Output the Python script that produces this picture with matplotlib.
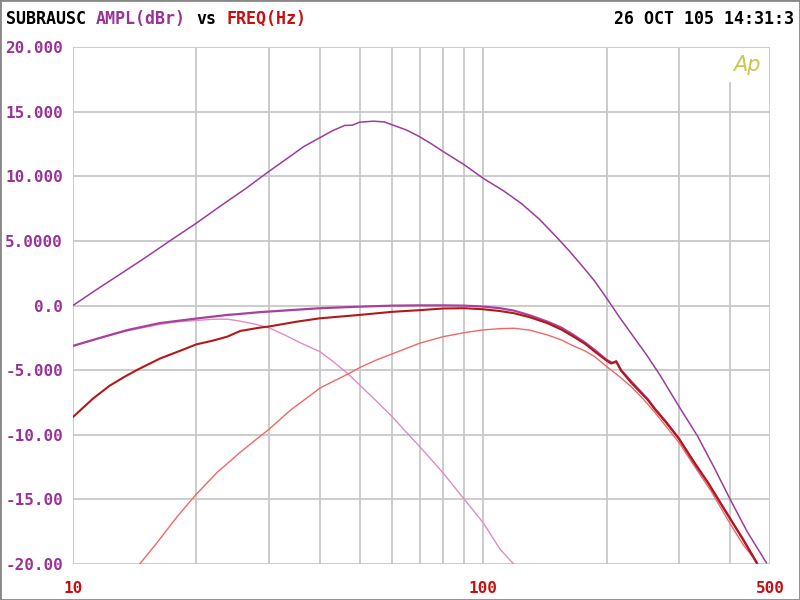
import matplotlib.pyplot as plt
from matplotlib.patches import Rectangle

# boost curve (top purple)
boost_f = [10, 11.5, 13, 15, 17.5, 20, 23, 26.5, 30, 33.5, 36.5, 40, 43, 46, 48, 50, 54, 57.5,
           60, 65, 70, 75, 80, 90, 100, 112, 124, 137, 150, 162, 174, 187, 200, 215, 230, 250,
           270, 300, 333, 365, 400, 440, 490]
boost_db = [0.0, 1.3, 2.4, 3.7, 5.15, 6.38, 7.75, 9.1, 10.37, 11.45, 12.3, 13.0, 13.55, 13.95, 13.97,
            14.2, 14.28, 14.22, 14.0, 13.6, 13.08, 12.5, 11.92, 10.9, 9.86, 8.9, 7.9, 6.7, 5.4, 4.25,
            3.1, 1.9, 0.57, -0.9, -2.2, -3.8, -5.4, -7.8, -10.1, -12.5, -15.0, -17.5, -19.9]

# sum curve (magenta)
sum_f = [10, 11.5, 13.55, 16.3, 20, 23.8, 25.6, 28.6, 30, 35, 40, 50, 60, 70, 80, 90, 100, 110,
         119, 130, 143.5, 155, 166, 177, 187, 200, 207, 211, 217, 230, 252, 261, 280, 300, 330,
         353, 374, 400, 430, 464]
sum_db = [-3.12, -2.55, -1.9, -1.35, -1.0, -0.72, -0.64, -0.5, -0.46, -0.32, -0.2, -0.08, 0.0,
          0.02, 0.02, 0.0, -0.07, -0.2, -0.39, -0.75, -1.24, -1.7, -2.27, -2.85, -3.43, -4.2,
          -4.45, -4.35, -5.0, -5.9, -7.25, -7.9, -9.05, -10.3, -12.4, -13.7, -15.0, -16.5, -18.1,
          -19.9]

# measured curve (dark red)
meas_f = [10, 11.2, 12.3, 13.3, 14.3, 16.3, 18.6, 20, 22, 23.8, 25.6, 28.6, 30, 35, 40, 50, 60,
          70, 80, 90, 100, 110, 119, 130, 143.5, 155, 166, 177, 187, 200, 205, 211, 217, 230, 252,
          261, 280, 300, 325, 353, 374, 400, 430, 464]
meas_db = [-8.64, -7.2, -6.2, -5.55, -5.0, -4.1, -3.4, -3.0, -2.7, -2.4, -1.96, -1.7, -1.62,
           -1.25, -0.98, -0.72, -0.48, -0.35, -0.22, -0.2, -0.28, -0.42, -0.59, -0.9, -1.36,
           -1.85, -2.4, -2.95, -3.56, -4.26, -4.48, -4.3, -5.05, -6.0, -7.3, -7.95, -9.1, -10.3,
           -12.0, -13.7, -15.0, -16.5, -18.1, -19.9]

# low pass (pink)
lp_f = [10, 11.5, 13.55, 16.3, 18, 20, 22, 23.8, 25.6, 28, 30, 33, 36, 40, 43, 46.9, 50, 55, 60,
        65, 70, 80, 90, 100, 110, 118.7]
lp_db = [-3.12, -2.55, -1.95, -1.45, -1.25, -1.15, -1.05, -1.05, -1.2, -1.45, -1.7, -2.3, -2.9,
         -3.56, -4.3, -5.29, -6.14, -7.4, -8.59, -9.8, -10.9, -12.97, -15.0, -16.8, -18.86, -20.0]

# high pass (salmon)
hp_f = [14.56, 16, 18, 20, 22.5, 25.6, 28, 30, 33.9, 37, 40, 43.5, 46.9, 50, 55, 60, 70, 80, 90,
        100, 110, 119, 130, 143.5, 155, 166, 177, 187, 200, 215, 229, 245, 261, 280, 300, 330,
        360, 400, 430, 468]
hp_db = [-20.0, -18.4, -16.3, -14.6, -12.9, -11.35, -10.35, -9.6, -8.1, -7.2, -6.39, -5.8, -5.29,
         -4.8, -4.2, -3.74, -2.91, -2.4, -2.09, -1.88, -1.78, -1.75, -1.9, -2.27, -2.65, -3.12,
         -3.5, -3.95, -4.72, -5.5, -6.25, -7.2, -8.2, -9.4, -10.6, -12.6, -14.4, -16.9, -18.5,
         -20.0]

y_ticks = [-20, -15, -10, -5, 0, 5, 10, 15, 20]
y_labels = ['-20.00', '-15.00', '-10.00', '-5.000', '0.0', '5.0000', '10.000', '15.000', '20.000']
x_ticks = [10, 100, 500]
x_labels = ['10', '100', '500']
x_minor = [20, 30, 40, 50, 60, 70, 80, 90, 200, 300]

mono = 'DejaVu Sans Mono'
purple = '#993399'
red = '#c41010'
gridc = '#c8c8c8'

fig = plt.figure(figsize=(8, 6), dpi=100)
ax = fig.add_axes([0.0909, 0.06, 0.8716, 0.8612])
ax.set_xscale('log')
ax.set_xlim(10, 500)
ax.set_ylim(-20, 20)

# grid lines
for yv in y_ticks:
    ax.axhline(yv, color=gridc, lw=1.3, zorder=1)
for xv in x_ticks + x_minor:
    ax.axvline(xv, color=gridc, lw=1.3, zorder=1)
ax.axvline(400, ymax=0.93, color=gridc, lw=1.3, zorder=1)

ax.plot(boost_f, boost_db, color='#9c3c9c', lw=1.1, zorder=3)
ax.plot(lp_f, lp_db, color='#e08cc4', lw=1.0, zorder=3)
ax.plot(hp_f, hp_db, color='#f06868', lw=1.0, zorder=3)
ax.plot(sum_f, sum_db, color='#a8409c', lw=1.6, zorder=4)
ax.plot(meas_f, meas_db, color='#b41818', lw=1.5, zorder=5)

for s in ax.spines.values():
    s.set_visible(False)
ax.set_yticks(y_ticks)
ax.set_yticklabels(y_labels, family=mono, fontsize=11.5, fontweight='bold', color=purple)
ax.set_xticks(x_ticks)
ax.set_xticklabels(x_labels, family=mono, fontsize=11.5, fontweight='bold', color=red)
ax.minorticks_off()
ax.tick_params(axis='x', length=0, pad=12)
ax.tick_params(axis='y', length=0, pad=7)

ax.text(0.947, 0.966, 'Ap', transform=ax.transAxes, color='#c8c850', fontsize=15,
        fontstyle='italic', fontweight='light', ha='left', va='center', family='DejaVu Sans')

# header
fig.text(0.007, 0.968, 'SUBRAUSC', family=mono, fontsize=12, fontweight='bold', color='black', va='center')
fig.text(0.12, 0.968, 'AMPL(dBr)', family=mono, fontsize=12, fontweight='bold', color=purple, va='center')
fig.text(0.246, 0.968, 'vs', family=mono, fontsize=12, fontweight='bold', color='black', va='center')
fig.text(0.283, 0.968, 'FREQ(Hz)', family=mono, fontsize=12, fontweight='bold', color=red, va='center')
fig.text(0.768, 0.968, '26 OCT 105 14:31:3', family=mono, fontsize=12, fontweight='bold', color='black', va='center')

fig.patches.append(Rectangle((0, 0), 1, 1, transform=fig.transFigure, fill=False,
                             edgecolor='#888888', lw=2))

fig.savefig('out.png', dpi=100)
